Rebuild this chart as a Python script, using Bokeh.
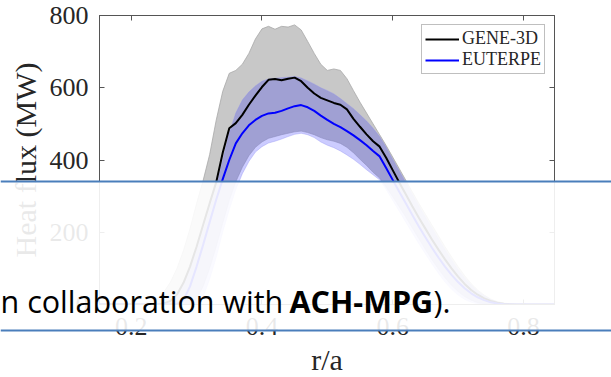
import numpy as np
from bokeh.plotting import figure
from bokeh.models import (Range1d, LinearAxis, FixedTicker, Legend, LegendItem,
                          InlineStyleSheet)
from bokeh.core.properties import value
from bokeh.embed import file_html
from bokeh.resources import INLINE

# ---------------- data ----------------
r_over_a = [0.15, 0.16, 0.17, 0.18, 0.19, 0.20, 0.21, 0.22, 0.23, 0.24,
            0.25, 0.26, 0.27, 0.28, 0.29, 0.30, 0.31, 0.32, 0.33, 0.34,
            0.35, 0.36, 0.37, 0.38, 0.39, 0.40, 0.41, 0.42, 0.43, 0.44,
            0.45, 0.46, 0.47, 0.48, 0.49, 0.50, 0.51, 0.52, 0.53, 0.54,
            0.55, 0.56, 0.57, 0.58, 0.59, 0.60, 0.61, 0.62, 0.63, 0.64,
            0.65, 0.66, 0.67, 0.68, 0.69, 0.70, 0.71, 0.72, 0.73, 0.74,
            0.75, 0.76, 0.77, 0.78, 0.79, 0.80, 0.81, 0.82, 0.83, 0.84, 0.85]

gene_hi = [0, 0, 0, 0, 0, 1, 1, 3, 8, 18,
           35, 62, 100, 150, 210, 280, 343, 415, 510, 590,
           640, 648, 665, 695, 735, 763, 770, 762, 770, 768,
           774, 760, 728, 695, 665, 648, 652, 648, 625, 592,
           560, 530, 500, 470, 440, 408, 376, 344, 312, 280,
           250, 220, 190, 160, 132, 105, 80, 58, 40, 26,
           15, 8, 4, 2, 1, 1, 0, 0, 0, 0, 0]

gene_mean = [0, 0, 0, 0, 0, 0, 0, 0, 0, 0,
             3, 10, 28, 60, 105, 160, 220, 280, 338, 420,
             488, 502, 525, 553, 578, 602, 622, 624, 621, 625,
             628, 618, 600, 584, 572, 565, 558, 553, 540, 514,
             492, 471, 452, 437, 406, 372, 338, 305, 272, 240,
             210, 180, 152, 125, 100, 77, 57, 40, 27, 17,
             10, 5, 2, 1, 0, 0, 0, 0, 0, 0, 0]

gene_lo = [0, 0, 0, 0, 0, 0, 0, 0, 0, 0,
           0, 0, 0, 0, 0, 15, 50, 100, 160, 225,
           288, 340, 380, 412, 435, 450, 460, 465, 470, 474,
           478, 480, 476, 470, 462, 456, 452, 446, 435, 420,
           402, 385, 366, 350, 325, 298, 270, 242, 212, 182,
           152, 124, 98, 74, 53, 36, 22, 12, 5, 2,
           0, 0, 0, 0, 0, 0, 0, 0, 0, 0, 0]

eut_hi = [0, 0, 0, 0, 0, 0, 0, 0, 0, 0,
          3, 10, 28, 58, 100, 150, 205, 265, 325, 400,
          475, 530, 566, 588, 605, 618, 624, 626, 628, 629,
          631, 627, 619, 610, 600, 592, 583, 570, 556, 542,
          525, 508, 488, 465, 435, 402, 370, 338, 305, 273,
          242, 212, 182, 152, 124, 97, 74, 54, 37, 24,
          14, 7, 3, 1, 0, 0, 0, 0, 0, 0, 0]

eut_mean = [0, 0, 0, 0, 0, 0, 0, 0, 0, 0,
            0, 0, 1, 12, 50, 105, 165, 228, 290, 347,
            400, 446, 474, 496, 511, 522, 529, 531, 536, 543,
            549, 552, 546, 536, 523, 511, 500, 491, 480, 468,
            455, 441, 425, 410, 378, 345, 312, 280, 248, 216,
            186, 157, 130, 105, 82, 62, 45, 31, 20, 12,
            6, 3, 1, 0, 0, 0, 0, 0, 0, 0, 0]

eut_lo = [0, 0, 0, 0, 0, 0, 0, 0, 0, 0,
          0, 0, 0, 0, 0, 0, 20, 70, 130, 200,
          262, 318, 362, 396, 422, 437, 447, 452, 458, 465,
          471, 474, 470, 462, 450, 441, 434, 425, 414, 402,
          388, 373, 359, 345, 318, 288, 258, 228, 198, 168,
          140, 112, 86, 62, 42, 26, 14, 6, 2, 0,
          0, 0, 0, 0, 0, 0, 0, 0, 0, 0, 0]

x_ticks = [0.2, 0.4, 0.6, 0.8]
y_ticks = [0, 200, 400, 600, 800]
series_names = ["GENE-3D", "EUTERPE"]
x_title = "r/a"
y_title = "Heat flux (MW)"
caption_plain = "n collaboration with"
caption_bold = "ACH-MPG"
caption_tail = ")."

W, H = 611, 377

# ---------------- chart figure ----------------
SERIF = "Liberation Serif"
AX = "#555555"
TXT = "#262626"

p = figure(width=W, height=H, output_backend="svg", toolbar_location=None,
           x_range=Range1d(0.1515, 0.8475), y_range=Range1d(0, 800),
           min_border_left=99, min_border_right=57, min_border_top=15,
           min_border_bottom=73, background_fill_color="white",
           border_fill_color="white", outline_line_color=AX)
p.grid.visible = False

for ax in (p.xaxis[0], p.yaxis[0]):
    ax.major_tick_in = 5
    ax.major_tick_out = 0
    ax.minor_tick_line_color = None
    ax.axis_line_color = AX
    ax.major_tick_line_color = AX
    ax.major_label_text_font = SERIF
    ax.major_label_text_font_size = "26px"
    ax.major_label_text_color = TXT
    ax.axis_label_text_font = SERIF
    ax.axis_label_text_font_size = "30px"
    ax.axis_label_text_font_style = "normal"
    ax.axis_label_text_color = TXT

p.xaxis.ticker = FixedTicker(ticks=x_ticks)
p.yaxis.ticker = FixedTicker(ticks=y_ticks)
p.yaxis.axis_label = y_title
p.xaxis.major_label_standoff = 13
p.yaxis.major_label_standoff = 11
p.yaxis.axis_label_standoff = 5

# mirror axes: inward ticks only, no labels drawn
for loc, tk in (("above", x_ticks), ("right", y_ticks)):
    mirror = LinearAxis(ticker=FixedTicker(ticks=tk), major_tick_in=5, major_tick_out=0,
                        minor_tick_line_color=None, axis_line_color=AX,
                        major_tick_line_color=AX, major_label_text_color=None,
                        major_label_text_font_size="0px", major_label_standoff=0)
    p.add_layout(mirror, loc)

# bands
p.varea(x=r_over_a, y1=gene_lo, y2=gene_hi, fill_color="#c8c8c8", fill_alpha=1.0)
p.line(r_over_a, gene_hi, line_color="#a8a8a8", line_width=0.8)
p.line(r_over_a, gene_lo, line_color="#b0b0b0", line_width=0.6)
p.varea(x=r_over_a, y1=eut_lo, y2=eut_hi, fill_color="#0000ff", fill_alpha=0.2)
p.line(r_over_a, eut_hi, line_color="#8c8cf0", line_width=0.6, line_alpha=0.6)
p.line(r_over_a, eut_lo, line_color="#8c8cf0", line_width=0.6, line_alpha=0.6)

l_gene = p.line(r_over_a, gene_mean, line_color="#000000", line_width=2)
l_eut = p.line(r_over_a, eut_mean, line_color="#0000ff", line_width=2)

legend = Legend(items=[LegendItem(label=series_names[0], renderers=[l_gene]),
                       LegendItem(label=series_names[1], renderers=[l_eut])],
                location="top_right", margin=9, padding=3, spacing=0,
                glyph_width=34, glyph_height=20, label_height=20, label_standoff=3,
                label_text_font=SERIF, label_text_font_size="18px", label_text_color=TXT,
                border_line_color="#7f7f7f", border_line_width=1,
                background_fill_color="white", background_fill_alpha=1.0)
p.add_layout(legend)

# ---------------- overlay figure (full canvas, transparent, on top) ----------------
q = figure(width=W, height=H, output_backend="svg", toolbar_location=None,
           x_range=Range1d(0, W), y_range=Range1d(H, 0),
           x_axis_location=None, y_axis_location=None, min_border=0,
           background_fill_alpha=0, border_fill_alpha=0, outline_line_color=None)
q.grid.visible = False
q.styles = {"position": "absolute", "top": "0px", "left": "0px", "z-index": "10"}
q.stylesheets = [InlineStyleSheet(css=":host { position: absolute !important; top: 0px !important; "
                                      "left: 0px !important; z-index: 10 !important; }")]

# x-axis title, centred under the chart frame
q.text(x=[326.5], y=[359], text=[x_title], text_font=value(SERIF), text_font_size="30px",
       text_color=TXT, text_baseline="alphabetic", text_align="center")

# slide band laid over the chart
q.quad(left=[-5], right=[W + 5], top=[181], bottom=[330], fill_color="white",
       fill_alpha=0.9, line_color=None)
q.hspan(y=[181, 330], line_color="#4a7ebb", line_width=2)

CAP_FONT = value("Open Sans")
q.text(x=[0], y=[300], text=[caption_plain], text_font=CAP_FONT, text_font_size="30.5px",
       text_color="black", text_baseline="alphabetic", text_align="left")
q.text(x=[289], y=[300], text=[caption_bold], text_font=CAP_FONT, text_font_size="30.5px",
       text_font_style="bold", text_color="black", text_baseline="alphabetic", text_align="left")
q.text(x=[433], y=[300], text=[caption_tail], text_font=CAP_FONT, text_font_size="30.5px",
       text_color="black", text_baseline="alphabetic", text_align="left")

open("out.html", "w").write(file_html([p, q], INLINE))
